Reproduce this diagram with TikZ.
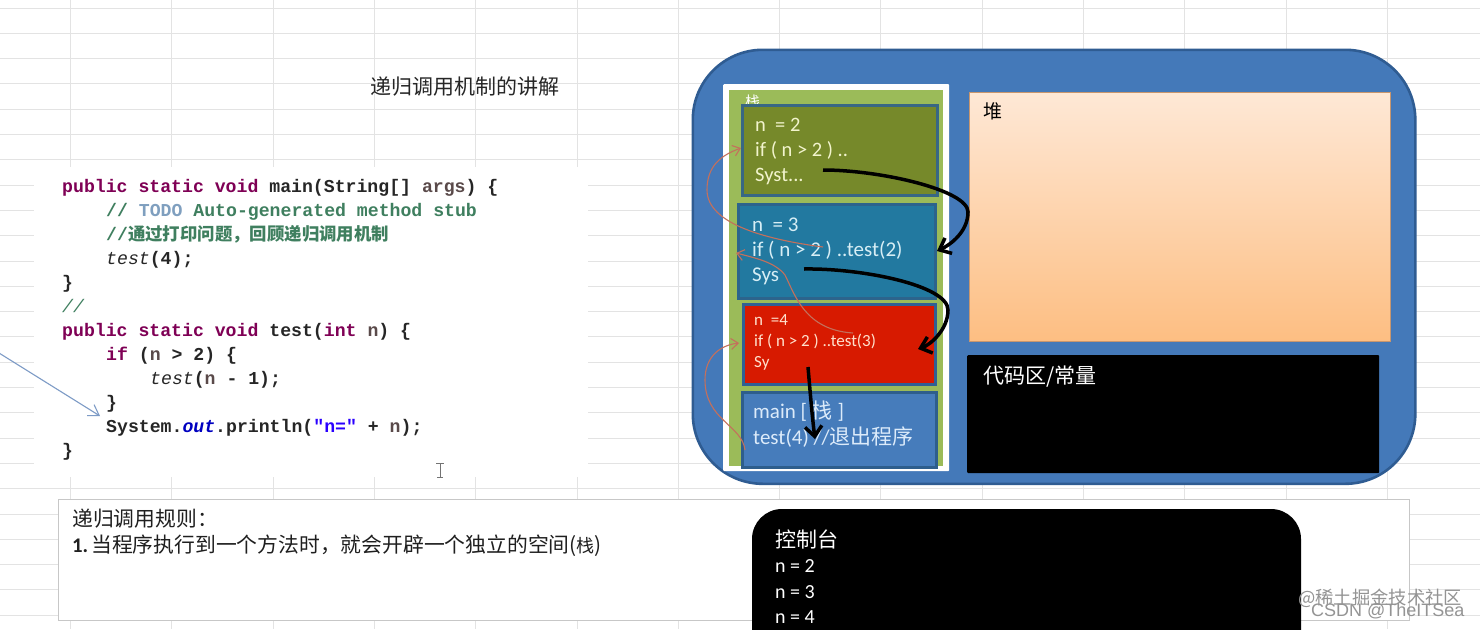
\documentclass[tikz,border=0pt]{standalone}
\usepackage{fontspec}
\usetikzlibrary{arrows.meta}
\setmainfont{Carlito}
\setmonofont{Liberation Mono}
\newfontfamily\cjk{Noto Sans CJK SC}
\definecolor{kw}{HTML}{7F0055}
\definecolor{cm}{HTML}{3F7F5F}
\definecolor{todo}{HTML}{7F9FBF}
\definecolor{par}{HTML}{5A4A4A}
\definecolor{fld}{HTML}{0000C0}
\definecolor{str}{HTML}{2A00FF}
\definecolor{gridc}{HTML}{E3E3E3}
\definecolor{outerb}{HTML}{4479B9}
\definecolor{outerl}{HTML}{2F5C92}
\definecolor{stackg}{HTML}{9BBB59}
\definecolor{redarc}{HTML}{C4705C}
\definecolor{bluearrow}{RGB}{125,155,198}
\definecolor{ftwol}{RGB}{56,103,132}
\definecolor{ftwof}{RGB}{118,137,42}
\definecolor{fthreel}{RGB}{44,100,140}
\definecolor{fthreef}{RGB}{34,121,160}
\definecolor{ffourl}{RGB}{48,96,148}
\definecolor{ffourf}{RGB}{215,26,0}
\definecolor{fmainl}{RGB}{46,94,140}
\definecolor{fmainf}{RGB}{70,124,187}
\definecolor{ttwo}{RGB}{242,244,205}
\definecolor{tthree}{RGB}{215,238,245}
\definecolor{tfour}{RGB}{255,225,205}
\definecolor{tmain}{RGB}{220,235,250}
\definecolor{heapl}{RGB}{200,150,110}
\definecolor{heapt}{RGB}{254,232,214}
\definecolor{heapb}{RGB}{253,190,130}
\newcommand{\K}[1]{\textcolor{kw}{\bfseries #1}}
\newcommand{\B}[1]{{\bfseries #1}}
\newcommand{\Pn}[1]{\textcolor{par}{\bfseries #1}}
\tikzset{
  codeline/.style={anchor=base west,inner sep=0pt,font=\ttfamily\fontsize{18.17}{20}\selectfont,text=black!85},
  frame/.style={draw=#1,line width=2.6pt,inner sep=0pt,anchor=north west},
  cjktext/.style={anchor=west,inner sep=0pt,align=left,font=\cjk\fontsize{20.8}{26}\selectfont},
  boxtext/.style={anchor=west,inner sep=0pt,align=left},
  thick arrow/.style={line width=3.5pt,black,-{Straight Barb[length=10pt,width=17pt,line width=3.5pt]}},
  return arc/.style={line width=1.1pt,redarc,-{Straight Barb[length=7pt,width=11pt]}},
  mark text/.style={anchor=west,inner sep=0pt,text=black!42,font=\cjk\fontsize{18.3}{20}\selectfont}
}
\begin{document}
\begin{tikzpicture}[x=1pt,y=-1pt]
\useasboundingbox (0,0) rectangle (1480,629);
\clip (0,0) rectangle (1480,629);
\fill[white] (0,0) rectangle (1480,629);
% sheet grid
\foreach \k in {0,...,24} {
  \pgfmathsetmacro{\gy}{round(7.5+25.3*\k)+0.5}
  \draw[gridc,line width=1.1pt] (0,\gy) -- (1480,\gy);
}
\foreach \k in {0,...,13} {
  \pgfmathsetmacro{\gx}{round(70+101.3*\k)+0.5}
  \draw[gridc,line width=1.1pt] (\gx,0) -- (\gx,629);
}
% code panel
\node[fill=white,inner sep=0pt,anchor=north west,minimum width=554pt,minimum height=310pt] (codepanel) at (34,167) {};
\node[anchor=west,inner sep=0pt,font=\cjk\fontsize{21}{24}\selectfont,text=black!85] (title) at (370,87) {递归调用机制的讲解};
\node[codeline] (c1) at (62,192) {\K{public static void} \B{main(String[]} \Pn{args}\B{) \{}};
\node[codeline,text=cm] (c2) at (106,216) {\bfseries // \textcolor{todo}{TODO} Auto-generated method stub};
\node[codeline,text=cm] (c3) at (106,240) {\bfseries //{\cjk\fontsize{17.4}{18}\selectfont 通过打印问题，回顾递归调用机制}};
\node[codeline] (c4) at (106,264) {\textit{test}\B{(4);}};
\node[codeline] (c5) at (62,288) {\B{\}}};
\node[codeline,text=cm] (c6) at (62,312) {\textit{//}};
\node[codeline] (c7) at (62,336) {\K{public static void} \B{test(}\K{int} \Pn{n}\B{) \{}};
\node[codeline] (c8) at (106,360) {\K{if} \B{(}\Pn{n} \B{> 2) \{}};
\node[codeline] (c9) at (150,384) {\textit{test}\B{(}\Pn{n} \B{- 1);}};
\node[codeline] (c10) at (106,408) {\B{\}}};
\node[codeline] (c11) at (106,432) {\B{System.}\textcolor{fld}{\bfseries\itshape out}\B{.println(}\textcolor{str}{\bfseries "n="} \B{+} \Pn{n}\B{);}};
\node[codeline] (c12) at (62,456) {\B{\}}};
\coordinate (bluefrom) at (-1,353);
\coordinate (blueto) at (100,416);
\draw[line width=1.1pt,bluearrow,-{Straight Barb[length=10pt,width=13pt]}] (bluefrom) -- (blueto);
% text cursor
\draw[black!55,line width=1pt] (436,463) -- (444,463) (440,463) -- (440,477) (437,477) -- (443,477);
% memory frame
\node[frame=outerl,fill=outerb,rounded corners=70pt,minimum width=722.5pt,minimum height=434pt] (jvm) at (691.5,48.5) {};
\node[fill=white,inner sep=0pt,anchor=north west,minimum width=226pt,minimum height=387pt,rounded corners=1pt] (stackwhite) at (723,84) {};
\node[fill=stackg,inner sep=0pt,anchor=north west,minimum width=214pt,minimum height=376pt] (stack) at (729,90) {};
\node[anchor=north west,inner sep=0pt,text=white,font=\cjk\fontsize{15}{17}\selectfont] (stacklabel) at (745,95) {栈};
\node[frame=ftwol,fill=ftwof,minimum width=195pt,minimum height=90pt] (f2) at (741,104) {};
\node[frame=fthreel,fill=fthreef,minimum width=197pt,minimum height=94pt] (f3) at (737,203) {};
\node[frame=ffourl,fill=ffourf,minimum width=192pt,minimum height=80pt] (f4) at (742,303) {};
\node[frame=fmainl,fill=fmainf,minimum width=194pt,minimum height=75pt] (fm) at (741,391) {};
\node[boxtext,text=ttwo,font=\fontsize{20.5}{25}\selectfont] (t2) at (755,151) {n\ \ = 2\\if ( n > 2 ) ..\\Syst...};
\node[boxtext,text=tthree,font=\fontsize{21}{25}\selectfont] (t3) at (752,251) {n\ \ = 3\\if ( n > 2 ) ..test(2)\\Sys};
\node[boxtext,text=tfour,font=\fontsize{17}{21}\selectfont] (t4) at (754,342) {n\ \ =4\\if ( n > 2 ) ..test(3)\\Sy};
\node[boxtext,text=tmain,font=\fontsize{21}{26}\selectfont] (tm) at (753,424) {main [ {\cjk 栈} ]\\test(4) //{\cjk 退出程序}};
% heap and code area
\node[draw=heapl,line width=1pt,inner sep=0pt,anchor=north west,minimum width=421pt,minimum height=249pt,top color=heapt,bottom color=heapb] (heap) at (968.5,92) {};
\node[anchor=west,inner sep=0pt,font=\cjk\fontsize{19}{22}\selectfont,text=black] (heaplabel) at (983,111) {堆};
\node[fill=black,rounded corners=1pt,inner sep=0pt,anchor=north west,minimum width=412pt,minimum height=118pt] (codearea) at (967,355) {};
\node[anchor=west,inner sep=0pt,font=\cjk\fontsize{21}{24}\selectfont,text=white] (codelabel) at (983,377) {代码区/常量};
% call and return arcs
\coordinate (a1) at (823,170); \coordinate (a1e) at (937,251);
\coordinate (a2) at (804,269); \coordinate (a2e) at (918,349);
\coordinate (a3) at (808,367); \coordinate (a3e) at (815,439);
\draw[thick arrow] (a1) .. controls (880,170) and (968,190) .. (968,212) .. controls (968,232) and (950,245) .. (a1e);
\draw[thick arrow] (a2) .. controls (860,268) and (948,285) .. (948,310) .. controls (948,330) and (930,345) .. (a2e);
\draw[thick arrow] (a3) .. controls (810,390) and (812,415) .. (a3e);
\coordinate (r1) at (823,247); \coordinate (r1e) at (741,148);
\coordinate (r2) at (853,333); \coordinate (r2e) at (736,253);
\coordinate (r3) at (745,450); \coordinate (r3e) at (739,343);
\draw[return arc] (r1) .. controls (770,240) and (707,225) .. (707,190) .. controls (707,165) and (722,155) .. (r1e);
\draw[return arc] (r2) .. controls (805,330) and (795,295) .. (785,275) .. controls (775,262) and (755,258) .. (r2e);
\draw[return arc] (r3) .. controls (742,425) and (705,420) .. (705,380) .. controls (705,355) and (722,345) .. (r3e);
% rules box
\node[draw=black!22,line width=1.4pt,fill=white,inner sep=0pt,anchor=north west,minimum width=1351pt,minimum height=121pt] (rules) at (58,499) {};
\node[cjktext,text=black!88] (rule1) at (72,519) {递归调用规则：};
\node[cjktext,text=black!88] (rule2) at (72,546) {{\fontspec{Carlito}\bfseries 1.}\kern3pt 当程序执行到一个方法时，就会开辟一个独立的空间({\fontsize{18}{20}\selectfont 栈})};
% console
\fill[black] (752,640) [rounded corners=30pt] -- (752,509) -- (1301,509) [sharp corners] -- (1301,640) -- cycle;
\node[anchor=west,inner sep=0pt,text=white,font=\cjk\fontsize{21}{24}\selectfont] (consolelabel) at (775,539) {控制台};
\node[anchor=west,inner sep=0pt,text=white,font=\fontsize{20}{22}\selectfont] (n2) at (775,566) {n = 2};
\node[anchor=west,inner sep=0pt,text=white,font=\fontsize{20}{22}\selectfont] (n3) at (775,592) {n = 3};
\node[anchor=west,inner sep=0pt,text=white,font=\fontsize{20}{22}\selectfont] (n4) at (775,617) {n = 4};
% watermark
\node[mark text] (wm1) at (1298,598) {@稀土掘金技术社区};
\node[mark text,font=\fontspec{Liberation Sans}\fontsize{18}{22}\selectfont] (wm2) at (1311,611) {CSDN @TheITSea};
\end{tikzpicture}
\end{document}
